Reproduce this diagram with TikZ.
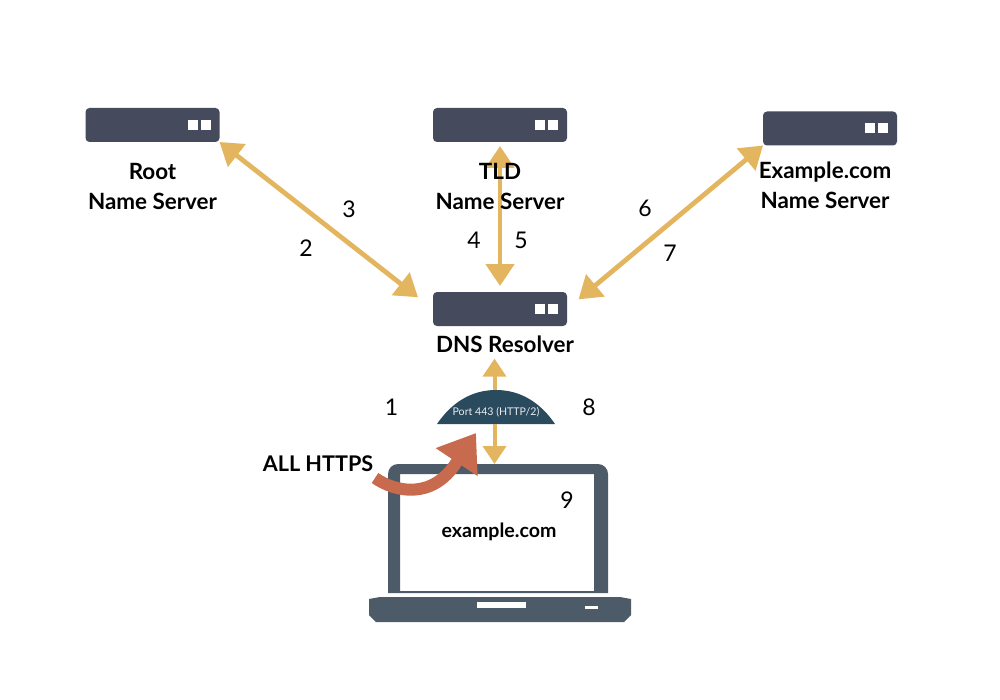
\documentclass[tikz,border=0pt]{standalone}
\usepackage{fontspec}
\setmainfont{Lato}
\usetikzlibrary{arrows.meta,positioning}
\definecolor{srvgray}{HTML}{454A5C}
\definecolor{lapgray}{HTML}{4C5B67}
\definecolor{linkgold}{HTML}{E3B55F}
\definecolor{domeblue}{HTML}{2A4A5E}
\definecolor{httpsred}{HTML}{C86A4E}

\begin{document}
\begin{tikzpicture}[
    x=0.5pt, y=-0.5pt,
    server/.style={rectangle, fill=srvgray, rounded corners=2pt, minimum width=67pt, minimum height=17pt, inner sep=0pt, outer sep=0pt},
    led/.style={rectangle, fill=white, minimum size=5pt, inner sep=0pt, outer sep=0pt},
    srvlabel/.style={align=center, font=\fontsize{11.2}{15}\selectfont\bfseries, inner sep=0pt},
    num/.style={font=\fontsize{11.5}{12}\selectfont, inner sep=0pt},
    link/.style={{Triangle[length=11pt,width=14pt]}-{Triangle[length=11pt,width=14pt]}, draw=linkgold, line width=2.4pt},
    uplink/.style={-{Triangle[length=9pt,width=11.5pt]}, draw=linkgold, line width=2pt}
]
\useasboundingbox (0,0) rectangle (1000,700);

% Servers
\node[server] (root) at (152.5,125) {};
\node[server] (tld) at (500,125) {};
\node[server] (example) at (830,128.5) {};
\node[server, below=75pt of tld] (dns) {};

\foreach \srv in {root,tld,example,dns} {
    \node[led, anchor=east] (\srv led2) at ([xshift=-4.5pt]\srv.east) {};
    \node[led, left=1.5pt of \srv led2] (\srv led1) {};
}

\node[srvlabel, below=4.5pt of dns, xshift=2.5pt] (dnslabel) {DNS Resolver};

% Port dome
\fill[domeblue] (437,424) .. controls (452,402) and (472,390) .. (496,390) .. controls (520,390) and (540,402) .. (555,424) -- cycle;
\node[minimum width=59pt, minimum height=17pt, inner sep=0pt, outer sep=0pt] (dome) at (494.5,407) {};
\node[font=\fontsize{5.3}{6}\selectfont, text=white!90!domeblue, inner sep=0pt] (port) at (496,412) {Port 443 (HTTP/2)};

% Laptop
\fill[lapgray, even odd rule] (388,593) [rounded corners=5pt] -- (388,464) -- (608,464) [sharp corners] -- (608,593) -- cycle
    (400,474) rectangle (594,591);
\fill[lapgray] (369,599) -- (380,597) -- (620,597) -- (631,599) -- (631,615) -- (624,622) -- (376,622) -- (369,615) -- cycle;
\fill[white] (477,602) rectangle (526,608);
\fill[white] (585,606) rectangle (598,609);
\coordinate (laptoptop) at (494,464);

% Links to the resolver
\draw[link, shorten >=9.5pt] (root.south east) -- (dns.west);
\draw[link, shorten <=2pt, shorten >=3pt] (tld.south) -- (dns.north);
\draw[link, shorten >=7.5pt] (example.south west) -- (dns.east);

% Links through the port
\draw[uplink, shorten >=3pt] (dome.north) -- (dome.north |- dnslabel.south);
\draw[uplink] (dome.south) -- (dome.south |- laptoptop);

% Server labels
\node[srvlabel, below=10.5pt of root] (rootlabel) {Root\\Name Server};
\node[srvlabel, below=10.5pt of tld] (tldlabel) {TLD\\Name Server};
\node[srvlabel, below=8.2pt of example, xshift=-2.5pt] (examplelabel) {Example.com\\Name Server};

% Steps
\node[num] (n1) at (391.5,407) {1};
\node[num] (n2) at (306,248) {2};
\node[num] (n3) at (349,209) {3};
\node[num] (n4) at (474,240) {4};
\node[num] (n5) at (521,240) {5};
\node[num] (n6) at (645,208) {6};
\node[num] (n7) at (670,253) {7};
\node[num] (n8) at (589,407) {8};
\node[num] (n9) at (567,500) {9};

\node[srvlabel, font=\fontsize{10.8}{12}\selectfont\bfseries] (allhttps) at (318,464) {ALL HTTPS};
\node[srvlabel, font=\fontsize{9.8}{12}\selectfont\bfseries] (site) at (499,532) {example.com};

% HTTPS redirect
\coordinate (httpstail) at (375,478);
\coordinate (httpsbend) at (456,463);
\coordinate (httpstip) at (476,433);
\draw[-{Triangle[length=17.5pt,width=24pt]}, draw=httpsred, line width=6pt] (httpstail) .. controls (395,492) and (432,500) .. (httpsbend) -- (httpstip);

\end{tikzpicture}
\end{document}
